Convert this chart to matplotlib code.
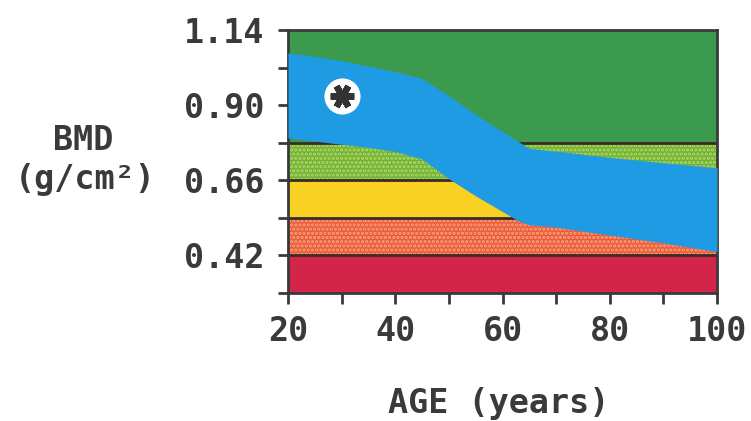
import numpy as np
import matplotlib
matplotlib.use('Agg')
import matplotlib.pyplot as plt

# reference bands (g/cm2)
band_edges = [0.30, 0.42, 0.54, 0.66, 0.78, 1.14]
band_colors = ['#d3254a', '#ec5a3c', '#f8d123', '#6cb33e', '#3c9a4e']
band_dots = [None, '#f7a27a', None, '#b9d65a', None]

# normal range (blue) by age
ages = [20, 25, 30, 35, 40, 45, 50, 55, 60, 63, 65, 70, 80, 90, 100]
blue_upper = [1.067, 1.055, 1.042, 1.025, 1.007, 0.985, 0.93, 0.87, 0.815, 0.783,
              0.762, 0.753, 0.733, 0.716, 0.70]
blue_lower = [0.795, 0.785, 0.775, 0.765, 0.752, 0.728, 0.665, 0.61, 0.56, 0.53,
              0.518, 0.51, 0.485, 0.46, 0.432]

# patient
patient_age = 30
patient_bmd = 0.93

yticks_major = [0.42, 0.66, 0.90, 1.14]
yticks_minor = [0.30, 0.54, 0.78, 1.02]
xticks_major = [20, 40, 60, 80, 100]
xticks_minor = [30, 50, 70, 90]

plt.rcParams['hatch.linewidth'] = 1.6
ink = '#3a3a3a'
font = dict(family='DejaVu Sans Mono', weight='bold', size=24, color=ink)

fig = plt.figure(figsize=(7.51, 4.21), dpi=100)
ax = fig.add_axes([288/751, 1-293/421, 429/751, 263/421])

for i in range(len(band_colors)):
    if band_dots[i] is None:
        ax.axhspan(band_edges[i], band_edges[i+1], facecolor=band_colors[i],
                   linewidth=0, zorder=1)
    else:
        ax.axhspan(band_edges[i], band_edges[i+1], facecolor=band_colors[i],
                   edgecolor=band_dots[i], hatch='....', linewidth=0, zorder=1)

for lvl in band_edges[1:-1]:
    ax.axhline(lvl, color='#3a2b25', linewidth=2, zorder=2)

ax.fill_between(ages, blue_lower, blue_upper, color='#1e9be2', linewidth=0, zorder=3)

ax.plot(patient_age, patient_bmd, 'o', markersize=25, color='white', zorder=5)
ax.plot(patient_age, patient_bmd, marker=(6, 2, 90), markersize=17,
        markeredgewidth=4.5, color='#333333', zorder=6)

ax.set_xlim(20, 100)
ax.set_ylim(0.30, 1.14)
ax.set_xticks(xticks_major)
ax.set_xticks(xticks_minor, minor=True)
ax.set_yticks(yticks_major)
ax.set_yticks(yticks_minor, minor=True)
ax.set_xticklabels([str(v) for v in xticks_major], fontdict=font)
ax.set_yticklabels(['%.2f' % v for v in yticks_major], fontdict=font)
ax.tick_params(which='both', direction='out', length=7, width=2, color=ink)
ax.tick_params(axis='y', which='both', pad=10)
ax.tick_params(axis='x', which='both', length=8, pad=8)
for s in ax.spines.values():
    s.set_linewidth(2)
    s.set_color(ink)

fig.text(83/751, 1-140/421, 'BMD', ha='center', va='center', **font)
fig.text(85/751, 1-180/421, '(g/cm²)', ha='center', va='center', **font)
fig.text(499/751, 1-403/421, 'AGE (years)', ha='center', va='center', **font)

fig.savefig('out.png', dpi=100, facecolor='white')
